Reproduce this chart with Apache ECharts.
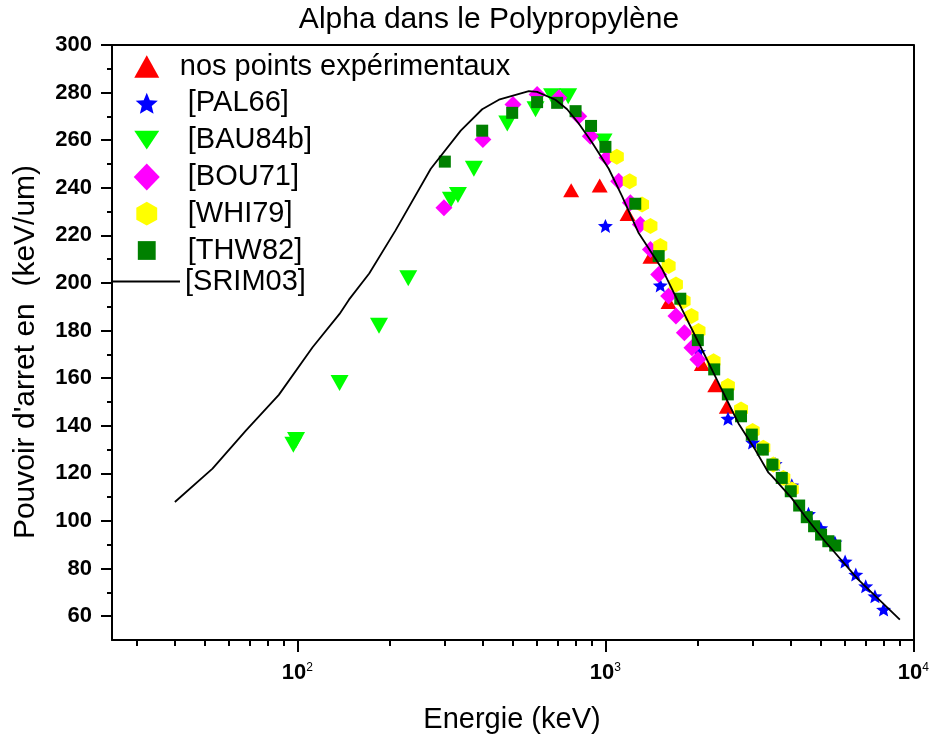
<!DOCTYPE html>
<html>
<head>
<meta charset="utf-8">
<script src="https://cdn.jsdelivr.net/npm/echarts@6/dist/echarts.min.js"></script>
<style>html,body{margin:0;padding:0;background:#fff}#c{width:932px;height:739px}</style>
</head>
<body>
<div id="c"></div>
<script>
// ---- data ----
const nosE = [774, 958, 1180, 1400, 1603, 2056, 2273, 2478];
const nosS = [239, 241, 229, 211, 192, 166, 157, 148];

const palE = [1000, 1507, 2005, 2500, 3006, 3556, 4028, 4563, 5000, 5560, 6000, 6500, 7000, 7500, 8000];
const palS = [224, 199, 171, 143, 133, 124, 115, 103, 97, 91, 83, 77.5, 72.6, 68.4, 62.8];

const bauE = [97, 99, 137, 184, 229, 315, 332, 374, 480, 593, 671, 757, 986];
const bauS = [132, 134, 158, 182, 202, 235, 237, 248, 267, 273, 278.5, 278.5, 259.5];

const bouE = [299, 400, 501, 600, 706, 819, 893, 1012, 1104, 1205, 1298, 1400, 1489, 1604, 1694, 1804, 1909, 1996];
const bouS = [231.6, 260.3, 275, 279.2, 277.8, 270.1, 261.7, 252.6, 242.8, 233.7, 224.6, 214.1, 203.6, 194.5, 186.1, 179.1, 172.8, 167.9];

const whiE = [1089, 1199, 1315, 1400, 1507, 1604, 1694, 1794, 1903, 2005, 2244, 2498, 2756, 3006, 3256, 3508, 3782, 4028];
const whiS = [253, 242.8, 233, 223.9, 215.5, 207.1, 199.4, 192.4, 186.1, 179.8, 167.1, 156.7, 146.9, 137.8, 130.8, 123.7, 118.1, 113.2];

const thwE = [301, 398, 498, 600, 697, 800, 898, 1000, 1250, 1489, 1750, 1995, 2255, 2497, 2756, 2987, 3243, 3485, 3737, 3997, 4256, 4505, 4758, 5013, 5293, 5573];
const thwS = [251, 264, 271.5, 276, 275.7, 272.2, 266, 257.2, 233.3, 211.3, 193.4, 176, 163.7, 153.2, 144, 136.3, 130, 123.7, 118.1, 112.5, 106.5, 101.6, 97.8, 94.3, 91.5, 89.7];

const srimE = [40, 53, 68, 87, 112, 137, 147, 171, 208, 271, 339, 398, 451, 564, 600, 688, 751, 819, 905, 1025, 1132, 1282, 1526, 1771, 2005, 2328, 2704, 3062, 3384, 3467, 4030, 4447, 5162, 6623, 9036];
const srimS = [108, 122, 138, 153, 173, 187, 193, 204, 222, 248, 264, 273, 277, 280.6, 280.3, 277, 273, 267, 259, 248, 236.5, 221, 206, 189, 175, 158, 141, 130, 120.3, 119, 109.5, 102, 91.5, 75.4, 58.6];

const seriesNames = ['nos points expérimentaux', ' [PAL66]', ' [BAU84b]', ' [BOU71]', ' [WHI79]', ' [THW82]'];
const lineName = '[SRIM03]';

const xMajorTicks = [100, 1000, 10000];
const xMinorTicks = [30, 40, 50, 60, 70, 80, 90, 200, 300, 400, 500, 600, 700, 800, 900, 2000, 3000, 4000, 5000, 6000, 7000, 8000, 9000];
const yMajorTicks = [60, 80, 100, 120, 140, 160, 180, 200, 220, 240, 260, 280, 300];
const yMinorTicks = [70, 90, 110, 130, 150, 170, 190, 210, 230, 250, 270, 290];

const titleText = 'Alpha dans le Polypropylène';
const xName = 'Energie (keV)';
const yName = "Pouvoir d'arret en  (keV/um)";

// ---- rendering ----
const FONT = 'Liberation Sans, Arial, sans-serif';
function pairs(e, s) { return e.map((v, i) => [v, s[i]]); }

const STAR = 'path://M100,0 L126.45,63.6 L195.1,69.1 L142.8,113.9 L158.8,180.9 L100,145 L41.2,180.9 L57.2,113.9 L4.9,69.1 L73.55,63.6 Z';
const TRI_UP = 'path://M0,14 L8,0 L16,14 Z';
const TRI_DN = 'path://M0,0 L18,0 L9,16 Z';
const HEX = 'path://M7,0 L14,4 L14,12 L7,16 L0,12 L0,4 Z';

const legendIcons = [
  'path://M0,0 M22,22 M1,20 L21,20 L11,2 Z',
  'path://M0,0 M22,22 M11,2.59 L13.46,8.5 L19.84,9.01 L14.98,13.18 L16.47,19.41 L11,16.07 L5.53,19.41 L7.02,13.18 L2.16,9.01 L8.54,8.5 Z',
  'path://M0,0 M22,22 M1,3.5 L21,3.5 L11,18.5 Z',
  'path://M0,0 M22,22 M11,0.2 L21.4,11 L11,21.8 L0.6,11 Z',
  'path://M0,0 M22,22 M11,1.5 L19.35,6.25 L19.35,15.75 L11,20.5 L2.65,15.75 L2.65,6.25 Z',
  'path://M0,0 M22,22 M3.85,3.5 L18.15,3.5 L18.15,18.5 L3.85,18.5 Z'
];

const scatterDefs = [
  {e: nosE, s: nosS, color: '#ff0000', symbol: TRI_UP, size: [16, 14]},
  {e: palE, s: palS, color: '#0000ff', symbol: STAR, size: [15, 14]},
  {e: bauE, s: bauS, color: '#00ff00', symbol: TRI_DN, size: [18, 16]},
  {e: bouE, s: bouS, color: '#ff00ff', symbol: 'diamond', size: [17, 17]},
  {e: whiE, s: whiS, color: '#ffff00', symbol: HEX, size: [14, 16]},
  {e: thwE, s: thwS, color: '#008000', symbol: 'rect', size: [12, 12]}
];

const series = scatterDefs.map((d, i) => ({
  type: 'scatter',
  name: seriesNames[i],
  data: pairs(d.e, d.s),
  symbol: d.symbol,
  symbolSize: d.size,
  itemStyle: {color: d.color, opacity: 1},
  emphasis: {disabled: true},
  silent: true
}));
series.push({
  type: 'line',
  name: lineName,
  data: pairs(srimE, srimS),
  showSymbol: false,
  symbol: 'none',
  lineStyle: {color: '#000', width: 1.8},
  itemStyle: {color: '#000'},
  emphasis: {disabled: true},
  silent: true
});

const axisLineStyle = {color: '#000', width: 2};

const option = {
  animation: false,
  backgroundColor: '#fff',
  title: {
    text: titleText,
    left: 489, top: 5, padding: 0, textAlign: 'center',
    textStyle: {fontFamily: FONT, fontSize: 30, fontWeight: 'normal', color: '#000'}
  },
  grid: {left: 112, right: 17, top: 45, bottom: 99, containLabel: false},
  legend: [
    {
      orient: 'vertical', left: 133, top: 52, padding: 0,
      itemWidth: 56, itemHeight: 27.5, itemGap: 7.8,
      selectedMode: false,
      data: seriesNames.map((n, i) => ({name: n, icon: legendIcons[i]})),
      textStyle: {fontFamily: FONT, fontSize: 29, lineHeight: 28, color: '#000'}
    },
    {
      orient: 'vertical', left: 113, top: 267, padding: 0,
      itemWidth: 67, itemHeight: 2, icon: 'rect',
      selectedMode: false,
      data: [lineName],
      textStyle: {fontFamily: FONT, fontSize: 29, lineHeight: 28, color: '#000'}
    }
  ],
  xAxis: [
    {
      type: 'log', logBase: 10, min: 25, max: 10000, position: 'bottom',
      axisLine: {show: true, lineStyle: axisLineStyle},
      axisTick: {show: true, inside: false, length: 12, lineStyle: {color: '#000', width: 2}, customValues: xMajorTicks},
      axisLabel: {
        show: true, margin: 22, customValues: xMajorTicks,
        fontFamily: FONT, fontSize: 22, fontWeight: 'bold', color: '#000',
        formatter: function (v) {
          const e = v > 10 ? Math.round(Math.log10(v)) : Math.round(v);
          return '{a|10}{b|' + e + '}';
        },
        rich: {
          a: {fontFamily: FONT, fontSize: 22, fontWeight: 'bold', color: '#000', lineHeight: 22},
          b: {fontFamily: FONT, fontSize: 12, fontWeight: 'normal', color: '#000', verticalAlign: 'top', lineHeight: 12}
        }
      },
      splitLine: {show: false}, minorTick: {show: false}
    },
    {
      type: 'log', logBase: 10, min: 25, max: 10000, position: 'bottom',
      axisLine: {show: false},
      axisTick: {show: true, inside: false, length: 6, lineStyle: {color: '#000', width: 2}, customValues: xMinorTicks},
      axisLabel: {show: false},
      splitLine: {show: false}
    },
    {
      type: 'log', logBase: 10, min: 25, max: 10000, position: 'top',
      axisLine: {show: true, lineStyle: axisLineStyle},
      axisTick: {show: false}, axisLabel: {show: false}, splitLine: {show: false}
    }
  ],
  yAxis: [
    {
      type: 'value', min: 50, max: 300, position: 'left',
      axisLine: {show: true, lineStyle: axisLineStyle},
      axisTick: {show: true, inside: false, length: 11, lineStyle: {color: '#000', width: 2}, customValues: yMajorTicks},
      axisLabel: {show: true, margin: 20, customValues: yMajorTicks,
        fontFamily: FONT, fontSize: 22, fontWeight: 'bold', color: '#000'},
      splitLine: {show: false}
    },
    {
      type: 'value', min: 50, max: 300, position: 'left',
      axisLine: {show: false},
      axisTick: {show: true, inside: false, length: 5, lineStyle: {color: '#000', width: 2}, customValues: yMinorTicks},
      axisLabel: {show: false}, splitLine: {show: false}
    },
    {
      type: 'value', min: 50, max: 300, position: 'right',
      axisLine: {show: true, lineStyle: axisLineStyle},
      axisTick: {show: false}, axisLabel: {show: false}, splitLine: {show: false}
    }
  ],
  graphic: [
    {
      type: 'text', x: 512, y: 720, silent: true,
      style: {text: xName, fontFamily: FONT, fontSize: 29, fill: '#000', align: 'center', verticalAlign: 'middle'}
    },
    {
      type: 'text', x: 26, y: 352, rotation: Math.PI / 2, silent: true,
      style: {text: yName, fontFamily: FONT, fontSize: 30, fill: '#000', align: 'center', verticalAlign: 'middle'}
    }
  ],
  series: series
};

const chart = echarts.init(document.getElementById('c'), null, {renderer: 'canvas'});
chart.setOption(option);
</script>
</body>
</html>
